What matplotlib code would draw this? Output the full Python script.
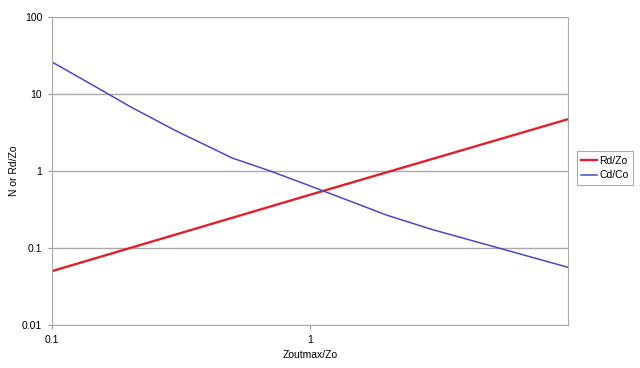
import numpy as np
import matplotlib.pyplot as plt

plt.rcParams['font.family'] = ['Liberation Sans', 'DejaVu Sans']

x_rd = [0.1, 1, 10]
rd_zo = [0.05, 0.49, 4.7]

x_cd = [0.1, 0.15, 0.2, 0.3, 0.5, 0.7, 1, 2, 3, 5, 10]
cd_co = [26, 12.0, 6.9, 3.36, 1.47, 1.0, 0.64, 0.264, 0.172, 0.107, 0.056]

fig = plt.figure(figsize=(6.4, 3.68), dpi=100)
ax = fig.add_axes([0.08125, 0.117, 0.80625, 0.837])

ax.plot(x_rd, rd_zo, color="#e0202a", lw=1.7, label="Rd/Zo")
ax.plot(x_cd, cd_co, color="#4a4ac8", lw=1.1, label="Cd/Co")

ax.set_xscale("log")
ax.set_yscale("log")
ax.set_xlim(0.1, 10)
ax.set_ylim(0.01, 100)

ax.set_yticks([0.01, 0.1, 1, 10, 100])
ax.set_yticklabels(["0.01", "0.1", "1", "10", "100"])
ax.set_xticks([0.1, 1])
ax.set_xticklabels(["0.1", "1"])
ax.minorticks_off()
ax.tick_params(labelsize=7.5, length=3, color="#999999", pad=4)

ax.yaxis.grid(True, color="#aaaaaa", lw=1)
for s in ax.spines.values():
    s.set_color("#aaaaaa")
ax.spines["top"].set_visible(False)

ax.set_xlabel("Zoutmax/Zo", fontsize=7.5)
ax.set_ylabel("N or Rd/Zo", fontsize=7.5, labelpad=2)

leg = ax.legend(loc="center left", bbox_to_anchor=(1.017, 0.51), fontsize=7.5,
                frameon=True, fancybox=False, handlelength=1.5,
                borderpad=0.45, labelspacing=0.45, handletextpad=0.2,
                borderaxespad=0)
leg.get_frame().set_edgecolor("#999999")
leg.get_frame().set_linewidth(0.8)

fig.savefig("out.png", dpi=100)
